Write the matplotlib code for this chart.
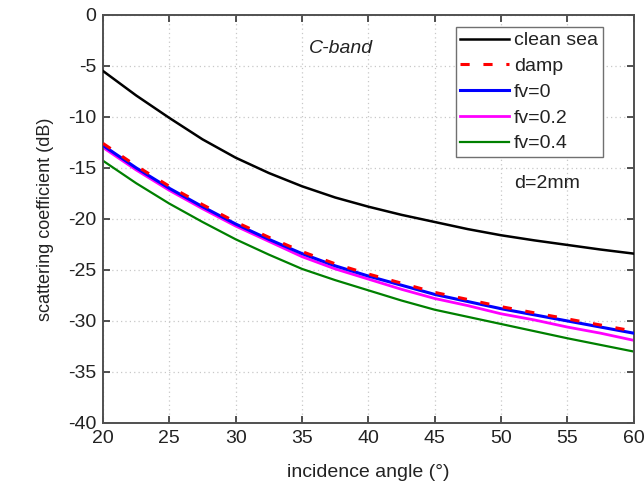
import matplotlib
matplotlib.use("Agg")
import matplotlib.pyplot as plt

plt.rcParams['font.family'] = ['Liberation Sans', 'DejaVu Sans']
plt.rcParams['axes.unicode_minus'] = False

angle = [20, 22.5, 25, 27.5, 30, 32.5, 35, 37.5, 40, 42.5, 45, 47.5, 50, 52.5, 55, 57.5, 60]
clean_sea = [-5.5, -7.9, -10.1, -12.2, -14.0, -15.5, -16.8, -17.9, -18.8, -19.6, -20.3, -21.0, -21.6, -22.1, -22.55, -23.0, -23.4]
damp = [-12.6, -14.8, -16.8, -18.6, -20.3, -21.8, -23.2, -24.4, -25.4, -26.3, -27.2, -27.9, -28.6, -29.2, -29.8, -30.4, -31.0]
fv0 = [-12.8, -15.0, -17.0, -18.8, -20.5, -22.0, -23.4, -24.6, -25.6, -26.5, -27.4, -28.1, -28.8, -29.4, -30.0, -30.6, -31.2]
fv02 = [-13.0, -15.2, -17.2, -19.0, -20.7, -22.2, -23.7, -24.9, -25.9, -26.9, -27.8, -28.5, -29.3, -29.9, -30.6, -31.2, -31.9]
fv04 = [-14.3, -16.5, -18.5, -20.3, -22.0, -23.5, -24.9, -26.0, -27.0, -28.0, -28.9, -29.6, -30.3, -31.0, -31.7, -32.35, -33.0]

xticks = [20, 25, 30, 35, 40, 45, 50, 55, 60]
yticks = [0, -5, -10, -15, -20, -25, -30, -35, -40]

fig = plt.figure(figsize=(6.44, 4.97), dpi=100)
ax = fig.add_axes([0.160, 0.149, 0.824, 0.821])

ax.plot(angle, clean_sea, color='black', lw=1.8, label='clean sea', zorder=5)
ax.plot(angle, fv0, color='blue', lw=2.2, label='fv=0', zorder=3)
ax.plot(angle, fv02, color='magenta', lw=2.0, label='fv=0.2', zorder=2)
ax.plot(angle, fv04, color='green', lw=1.6, label='fv=0.4', zorder=2)
ax.plot(angle, damp, color='red', lw=2.2, ls=(0, (3, 4.5)), label='damp', zorder=4)

ax.set_xlim(20, 60)
ax.set_ylim(-40, 0)
ax.set_xticks(xticks)
ax.set_yticks(yticks)

ax.grid(True, color='#c8c8c8', ls=(0, (1, 2.5)), lw=0.9)
ax.tick_params(direction='in', length=5, width=1.2, top=True, right=True,
               labelsize=14, colors='#333333', labelcolor='#222222', pad=5)
for s in ax.spines.values():
    s.set_color('#505050')
    s.set_linewidth(1.4)

ax.set_xlabel('incidence angle (°)', fontsize=14, color='#222222', labelpad=12)
ax.set_ylabel('scattering coefficient (dB)', fontsize=13, color='#222222', labelpad=10)

ax.text(37.9, -3.3, 'C-band', fontsize=14, style='italic', ha='center', va='center', color='#222222')
ax.text(53.5, -16.5, 'd=2mm', fontsize=14, ha='center', va='center', color='#222222')

h, l = ax.get_legend_handles_labels()
order = ['clean sea', 'damp', 'fv=0', 'fv=0.2', 'fv=0.4']
hh = [h[l.index(o)] for o in order]
leg = ax.legend(hh, order, loc='upper right', bbox_to_anchor=(0.9416, 0.9706),
                borderaxespad=0, fontsize=14, handlelength=2.5, handletextpad=0.25,
                labelspacing=0.42, borderpad=0.25, fancybox=False, framealpha=1)
leg.get_frame().set_edgecolor('#707070')
leg.get_frame().set_linewidth(1.0)
for t in leg.get_texts():
    t.set_color('#222222')

fig.savefig('out.png', dpi=100)
